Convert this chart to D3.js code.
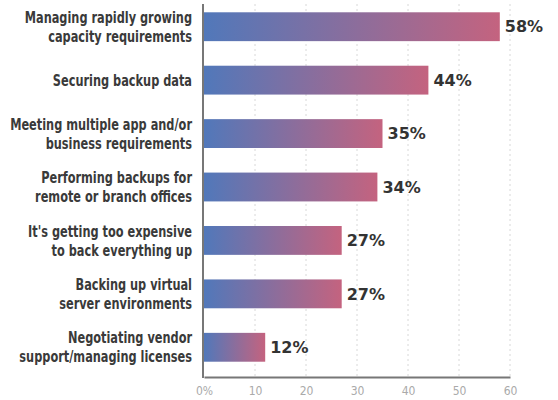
<!DOCTYPE html>
<html>
<head>
<meta charset="utf-8">
<script src="https://cdn.jsdelivr.net/npm/d3@7"></script>
<style>
  body { margin: 0; background: #fff; }
  .cat-label { font-family: "DejaVu Sans Condensed", "DejaVu Sans", sans-serif; font-stretch: condensed; font-weight: bold; fill: #3a3a3a; }
  .val-label { font-family: "DejaVu Sans", sans-serif; font-weight: bold; fill: #333; }
  .tick text { font-family: "DejaVu Sans Condensed", sans-serif; fill: #aaa; }
</style>
</head>
<body>
<svg id="chart"></svg>
<script>
// Backup challenges, horizontal bar chart

const categories = [
  ["Managing rapidly growing", "capacity requirements"],
  ["Securing backup data"],
  ["Meeting multiple app and/or", "business requirements"],
  ["Performing backups for", "remote or branch offices"],
  ["It's getting too expensive", "to back everything up"],
  ["Backing up virtual", "server environments"],
  ["Negotiating vendor", "support/managing licenses"],
];
const values = [58, 44, 35, 34, 27, 27, 12];
const tickValues = [0, 10, 20, 30, 40, 50, 60];
const tickLabels = ["0%", "10", "20", "30", "40", "50", "60"];

const width = 558;
const height = 400;
const svg = d3.select("#chart").attr("width", width).attr("height", height);

const x0 = 204;
const x = d3.scaleLinear().domain([0, 60]).range([x0, 510]);
const y = d3
  .scaleBand()
  .domain(d3.range(values.length))
  .range([0, 374])
  .paddingInner(0.46)
  .paddingOuter(0.23);
const axisY = 377;

// gradient per bar
const defs = svg.append("defs");
const grad = defs
  .append("linearGradient")
  .attr("id", "barGrad")
  .attr("x1", "0%")
  .attr("x2", "100%")
  .attr("y1", "0%")
  .attr("y2", "0%");
grad.append("stop").attr("offset", "0%").attr("stop-color", "#5178ba");
grad.append("stop").attr("offset", "100%").attr("stop-color", "#c4637f");

// gridlines
svg
  .append("g")
  .selectAll("line")
  .data(tickValues.slice(1))
  .enter()
  .append("line")
  .attr("x1", (d) => x(d))
  .attr("x2", (d) => x(d))
  .attr("y1", 4)
  .attr("y2", axisY)
  .attr("stroke", "#d8d8d8")
  .attr("stroke-dasharray", "2,3");

// bars
svg
  .append("g")
  .selectAll("rect")
  .data(values)
  .enter()
  .append("rect")
  .attr("x", x(0))
  .attr("y", (d, i) => y(i))
  .attr("width", (d) => x(d) - x(0))
  .attr("height", y.bandwidth())
  .attr("fill", "url(#barGrad)");

// value labels
svg
  .append("g")
  .selectAll("text")
  .data(values)
  .enter()
  .append("text")
  .attr("class", "val-label")
  .attr("x", (d) => x(d) + 5)
  .attr("y", (d, i) => y(i) + y.bandwidth() / 2)
  .attr("dy", "0.36em")
  .attr("font-size", 16)
  .text((d) => d + "%");

// category labels (condensed by a horizontal scale so they fit like the original)
const catG = svg.append("g").attr("transform", "translate(192,0)");
categories.forEach((lines, i) => {
  const cy = y(i) + y.bandwidth() / 2;
  const lh = 19;
  const t = catG
    .append("text")
    .attr("class", "cat-label")
    .attr("text-anchor", "end")
    .attr("font-size", 16);
  lines.forEach((ln, j) => {
    t.append("tspan")
      .attr("x", 0)
      .attr("y", cy + (j - (lines.length - 1) / 2) * lh)
      .attr("dy", "0.35em")
      .text(ln);
  });
});
let maxW = 0;
catG.selectAll("tspan").each(function () {
  maxW = Math.max(maxW, this.getComputedTextLength());
});
const sx = Math.min(1, 182 / maxW);
catG.attr("transform", `translate(192,0) scale(${sx},1)`);

// axes
const xAxis = d3
  .axisBottom(x)
  .tickValues(tickValues)
  .tickSize(0)
  .tickPadding(9)
  .tickFormat((d, i) => tickLabels[i]);

const axG = svg
  .append("g")
  .attr("transform", `translate(0,${axisY})`)
  .call(xAxis);
axG.select(".domain").attr("stroke", "#777").attr("stroke-width", 2);
axG.selectAll(".tick text").attr("font-size", 12);

svg
  .append("line")
  .attr("x1", x0 - 1)
  .attr("x2", x0 - 1)
  .attr("y1", 4)
  .attr("y2", axisY + 1)
  .attr("stroke", "#777")
  .attr("stroke-width", 2);
</script>
</body>
</html>
